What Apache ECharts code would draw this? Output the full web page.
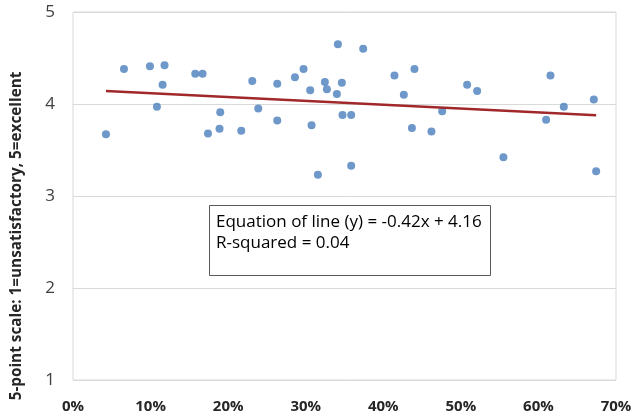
<!DOCTYPE html>
<html>
<head>
<meta charset="utf-8">
<script src="https://cdn.jsdelivr.net/npm/echarts@6/dist/echarts.min.js"></script>
<style>html,body{margin:0;padding:0;background:#fff}#c{width:636px;height:417px}</style>
</head>
<body>
<div id="c"></div>
<script>
// Percentage (x, in %) and rating (y, 1-5 scale)
const xPercent = [4.25, 6.57, 9.92, 11.80, 11.55, 10.82, 15.76, 16.70, 18.98, 17.40, 18.89, 21.69, 23.11, 23.88,
  26.33, 26.33, 28.61, 29.72, 30.58, 30.75, 31.57, 32.47, 32.73, 34.02, 34.15, 34.66, 34.74, 35.86, 35.86, 37.41,
  41.44, 42.65, 44.02, 43.69, 46.21, 47.59, 50.81, 52.10, 55.49, 61.55, 60.99, 63.27, 67.14, 67.44];
const yRating = [3.67, 4.38, 4.41, 4.42, 4.21, 3.97, 4.33, 4.33, 3.91, 3.68, 3.73, 3.71, 4.25, 3.95,
  4.22, 3.82, 4.29, 4.38, 4.15, 3.77, 3.23, 4.24, 4.16, 4.11, 4.65, 4.23, 3.88, 3.88, 3.33, 4.60,
  4.31, 4.10, 4.38, 3.74, 3.70, 3.92, 4.21, 4.14, 3.42, 4.31, 3.83, 3.97, 4.05, 3.27];
const slope = -0.42;
const intercept = 4.16;
const rSquared = 0.04;
const xTicks = [0, 10, 20, 30, 40, 50, 60, 70];
const yTicks = [1, 2, 3, 4, 5];
const yAxisTitle = '5-point scale: 1=unsatisfactory, 5=excellent';

const points = xPercent.map((x, i) => [x, yRating[i]]);
const xMin = Math.min(...xPercent), xMax = Math.max(...xPercent);
const trend = [[xMin, slope * xMin / 100 + intercept], [xMax, slope * xMax / 100 + intercept]];

const chart = echarts.init(document.getElementById('c'), null, {renderer: 'canvas'});
chart.setOption({
  animation: false,
  backgroundColor: '#fff',
  grid: {left: 73, right: 20, top: 12, bottom: 37, show: true, borderColor: '#D9D9D9', borderWidth: 1},
  xAxis: {
    type: 'value', min: xTicks[0], max: xTicks[xTicks.length - 1], interval: 10,
    axisLine: {show: false}, axisTick: {show: false}, splitLine: {show: false},
    axisLabel: {formatter: '{value}%', color: '#262626', fontWeight: 'bold', fontSize: 15,
      fontFamily: 'Open Sans', margin: 19}
  },
  yAxis: {
    type: 'value', min: yTicks[0], max: yTicks[yTicks.length - 1], interval: 1,
    axisLine: {show: false}, axisTick: {show: false},
    splitLine: {show: true, lineStyle: {color: '#D9D9D9', width: 1}},
    axisLabel: {color: '#404040', fontSize: 17, fontFamily: 'Open Sans', margin: 18}
  },
  graphic: [
    {type: 'text', x: 17, y: 236, rotation: Math.PI / 2,
      style: {text: yAxisTitle, fill: '#262626', font: 'bold 15.3px "Open Sans"', align: 'center', verticalAlign: 'middle'}},
    {type: 'rect', shape: {x: 209.5, y: 205.5, width: 281, height: 70},
      style: {fill: '#fff', stroke: '#595959', lineWidth: 1}, z: 10},
    {type: 'text', x: 216, y: 212, z: 11,
      style: {text: 'Equation of line (y) = ' + slope.toFixed(2) + 'x + ' + intercept.toFixed(2) + '\nR-squared = ' + rSquared.toFixed(2),
        fill: '#000', font: '17px "Open Sans"', lineHeight: 21}}
  ],
  series: [
    {type: 'scatter', data: points, symbolSize: 8, itemStyle: {color: '#4A7EBB'}, z: 3},
    {type: 'line', data: trend, symbol: 'none', lineStyle: {color: '#A0282A', width: 2.5}, z: 4}
  ]
});
</script>
</body>
</html>
